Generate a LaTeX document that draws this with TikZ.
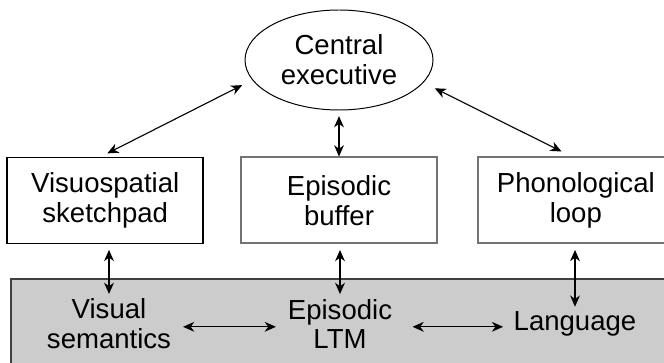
\documentclass[tikz,border=0pt]{standalone}
\usepackage{fontspec}
\setmainfont{Liberation Sans}
\usepackage{tikz}
\usetikzlibrary{arrows.meta,shapes.geometric,positioning,calc}

\begin{document}
\begin{tikzpicture}[
        font=\fontsize{19.6}{21.3}\selectfont,
        exec/.style={ellipse,draw,line width=0.7pt,inner sep=0pt,minimum width=4.7cm,minimum height=2.5cm,align=center},
        compbox/.style={rectangle,draw=black!55,line width=1.3pt,minimum width=4.9cm,minimum height=2.15cm,align=center},
        ltmtext/.style={align=center},
        arrow/.style={<->,>={Stealth[length=8pt,width=7pt,inset=2.5pt]},line width=0.8pt},
    ]
    \useasboundingbox (0,0) rectangle (16.6,-9.075);

    % === LTM band ===
    \draw[fill=gray!40,draw=black!75,line width=1.3pt] (0.275,-6.975) rectangle (17.5,-9.6);

    % === Working memory ===
    \node[exec] (ce) at (8.475,-1.5) {Central\\executive};
    \node[compbox,below=1.15cm of ce] (eb) {Episodic\\buffer};
    \node[compbox,draw=black,line width=1.2pt,left=0.9cm of eb] (vss) {Visuospatial\\sketchpad};
    \node[compbox,right=0.975cm of eb] (pl) {Phonological\\loop};

    \node[ltmtext] (vis) at (2.725,-8.1) {Visual\\semantics};
    \node[ltmtext] (eltm) at (8.5,-8.1) {Episodic\\LTM};
    \node[ltmtext] (lang) at (14.375,-8.1) {Language};

    \draw[arrow,shorten <=5pt,shorten >=8pt] ([xshift=-3pt]vss.north) -- (ce.193);
    \draw[arrow,shorten >=4pt] (eb.north) -- (ce.south);
    \draw[arrow,shorten <=8pt,shorten >=9pt] ([xshift=-3pt]pl.north) -- (ce.345);

    \draw[arrow,shorten <=4pt] (vss.south -| vis.north) -- (vis.north);
    \draw[arrow,shorten <=4pt] (eb.south -| eltm.north) -- (eltm.north);
    \draw[arrow,shorten <=4pt] (pl.south -| lang.north) -- (lang.north);

    \draw[arrow,shorten <=5pt,shorten >=5pt] ([yshift=-2pt]vis.east) -- ([yshift=-2pt]eltm.west);
    \draw[arrow,shorten <=11pt,shorten >=4pt] ([yshift=-2pt]eltm.east) -- ([yshift=-2pt]lang.west);
\end{tikzpicture}
\end{document}
